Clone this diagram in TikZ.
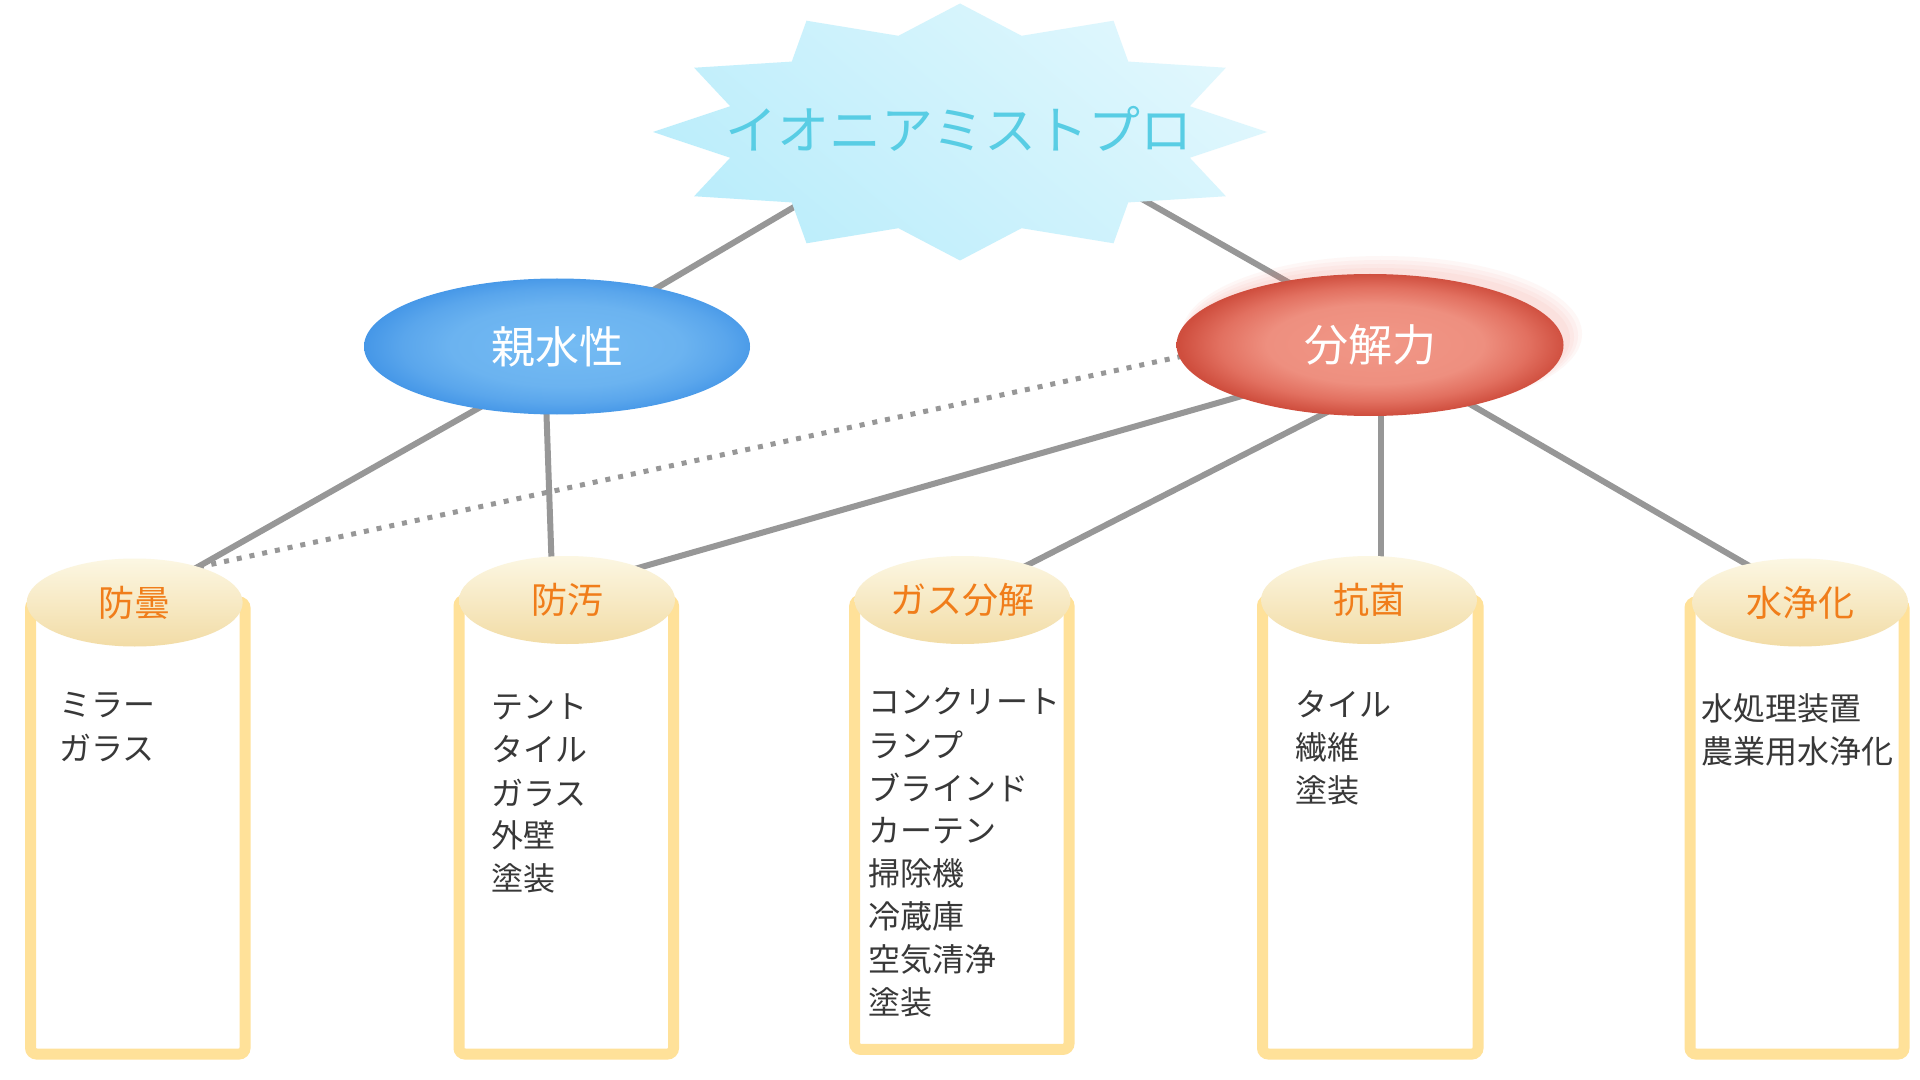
\documentclass[tikz,border=0pt]{standalone}
\usepackage{fontspec}
\setmainfont{Noto Sans CJK JP}
\usetikzlibrary{shapes.geometric}
\definecolor{lineg}{HTML}{979797}
\definecolor{boxy}{HTML}{FFE199}
\definecolor{captop}{HTML}{FCF7E3}
\definecolor{capbot}{HTML}{F2DCA6}
\definecolor{orangetx}{HTML}{F07D1A}
\definecolor{itemtx}{HTML}{383838}
\definecolor{titletx}{HTML}{58CDE4}
\definecolor{startop}{HTML}{E0F7FD}
\definecolor{starbot}{HTML}{BBEDFB}
\definecolor{bhi}{HTML}{74BBF3}
\definecolor{bmid}{HTML}{6BB3F0}
\definecolor{bmid2}{HTML}{5AA6EC}
\definecolor{blo}{HTML}{4496E7}
\definecolor{blo2}{HTML}{4193E5}
\definecolor{rhi}{HTML}{F19787}
\definecolor{rmid}{HTML}{EE8F7F}
\definecolor{rmid2}{HTML}{E27060}
\definecolor{rlo}{HTML}{CF4E3E}
\definecolor{rlo2}{HTML}{C84737}
\definecolor{glow}{HTML}{F46A5C}
\pgfdeclareradialshading{bluesh}{\pgfpoint{2bp}{0.5bp}}{color(0bp)=(bhi); color(15bp)=(bmid); color(21bp)=(bmid2); color(26bp)=(blo); color(40bp)=(blo2)}
\pgfdeclareradialshading{redsh}{\pgfpoint{1bp}{0.5bp}}{color(0bp)=(rhi); color(14bp)=(rmid); color(20bp)=(rmid2); color(25bp)=(rlo); color(40bp)=(rlo2)}
\begin{document}
\begin{tikzpicture}[x=0.5pt,y=-0.5pt,
  conn/.style={draw=lineg, line width=3pt},
  dotconn/.style={draw=lineg, line width=2.5pt, dash pattern=on 2.5pt off 4pt},
  boxframe/.style={draw=boxy, line width=5.5pt, rounded corners=3pt},
  capell/.style={ellipse, minimum width=108pt, minimum height=44pt, inner sep=0pt, top color=captop, bottom color=capbot, text=orangetx, font=\fontsize{18pt}{20pt}\selectfont},
  itemtx/.style={anchor=west, inner sep=0pt, text=itemtx, font=\fontsize{16pt}{18pt}\selectfont},
  bigell/.style={ellipse, inner sep=0pt, minimum width=193pt, minimum height=70pt, text=white, font=\fontsize{22pt}{24pt}\selectfont}
]
\fill[white] (0,0) rectangle (1920,1080);
\useasboundingbox (0,0) rectangle (1920,1080);

% connector end points
\coordinate (sA) at (833,184);
\coordinate (hA) at (628,305);
\coordinate (sB) at (1105,178);
\coordinate (dB) at (1316,298);
\coordinate (hC) at (500,396);
\coordinate (c1C) at (180,577);
\coordinate (hD) at (546,400);
\coordinate (c2D) at (552,575);
\coordinate (dE) at (1270,388);
\coordinate (c2E) at (610,576);
\coordinate (dF) at (1345,403);
\coordinate (c3F) at (1006,576);
\coordinate (dG) at (1381,400);
\coordinate (c4G) at (1381,575);
\coordinate (dH) at (1449,392);
\coordinate (c5H) at (1765,575);
\coordinate (dI) at (1195,353.5);
\coordinate (c1I) at (185,570);

\draw[conn] (sA) -- (hA);
\draw[conn] (sB) -- (dB);
\draw[conn] (hC) -- (c1C);
\draw[conn] (hD) -- (c2D);
\draw[conn] (dE) -- (c2E);
\draw[conn] (dF) -- (c3F);
\draw[conn] (dG) -- (c4G);
\draw[conn] (dH) -- (c5H);
\draw[dotconn] (dI) -- (c1I);

% star
\shade[top color=startop, bottom color=starbot, shading angle=-40]
  ({960+307}, 132)
  \foreach \k in {1,...,23} {
    -- ({960+307*cos(\k*15)*(1-0.225*mod(\k,2))}, {132+128.5*sin(\k*15)*(1-0.225*mod(\k,2))})
  } -- cycle;
\node[text=titletx, font=\fontsize{26pt}{28pt}\selectfont, inner sep=0pt] (title) at (959,129) {イオニアミストプロ};

% main ellipses
\foreach \g in {1,...,4} {
  \fill[glow, opacity=0.05] ({1376+\g*1.5},{340-\g*1.5}) ellipse ({190+\g*2.5} and {68+\g*2.5});
}
\node[bigell, shading=bluesh, minimum width=193pt, minimum height=68pt] (hyd) at (557,346.5) {親水性};
\node[bigell, shading=redsh, minimum width=193.5pt, minimum height=71pt] (dec) at (1370,345) {分解力};

% boxes
\draw[boxframe] (30.6,602) rectangle (245,1054);
\draw[boxframe] (459,600) rectangle (673.5,1054);
\draw[boxframe] (854.7,600) rectangle (1069,1049.4);
\draw[boxframe] (1262.5,600) rectangle (1478,1054);
\draw[boxframe] (1690,602) rectangle (1904,1054);

\node[capell] (c1) at (134.7,602.5) {防曇};
\node[capell] (c2) at (567,600) {防汚};
\node[capell] (c3) at (962.5,600) {ガス分解};
\node[capell] (c4) at (1369,600) {抗菌};
\node[capell] (c5) at (1800,602.5) {水浄化};

% items
\foreach \t [count=\i from 0] in {ミラー,ガラス}
  \node[itemtx] (i1-\i) at (59,{705+43*\i}) {\t};
\foreach \t [count=\i from 0] in {テント,タイル,ガラス,外壁,塗装}
  \node[itemtx] (i2-\i) at (491,{706.5+43*\i}) {\t};
\foreach \t [count=\i from 0] in {コンクリート,ランプ,ブラインド,カーテン,掃除機,冷蔵庫,空気清浄,塗装}
  \node[itemtx] (i3-\i) at (868,{701.6+43*\i}) {\t};
\foreach \t [count=\i from 0] in {タイル,繊維,塗装}
  \node[itemtx] (i4-\i) at (1295,{704+43*\i}) {\t};
\foreach \t [count=\i from 0] in {水処理装置,農業用水浄化}
  \node[itemtx] (i5-\i) at (1701,{708+43*\i}) {\t};
\end{tikzpicture}
\end{document}
